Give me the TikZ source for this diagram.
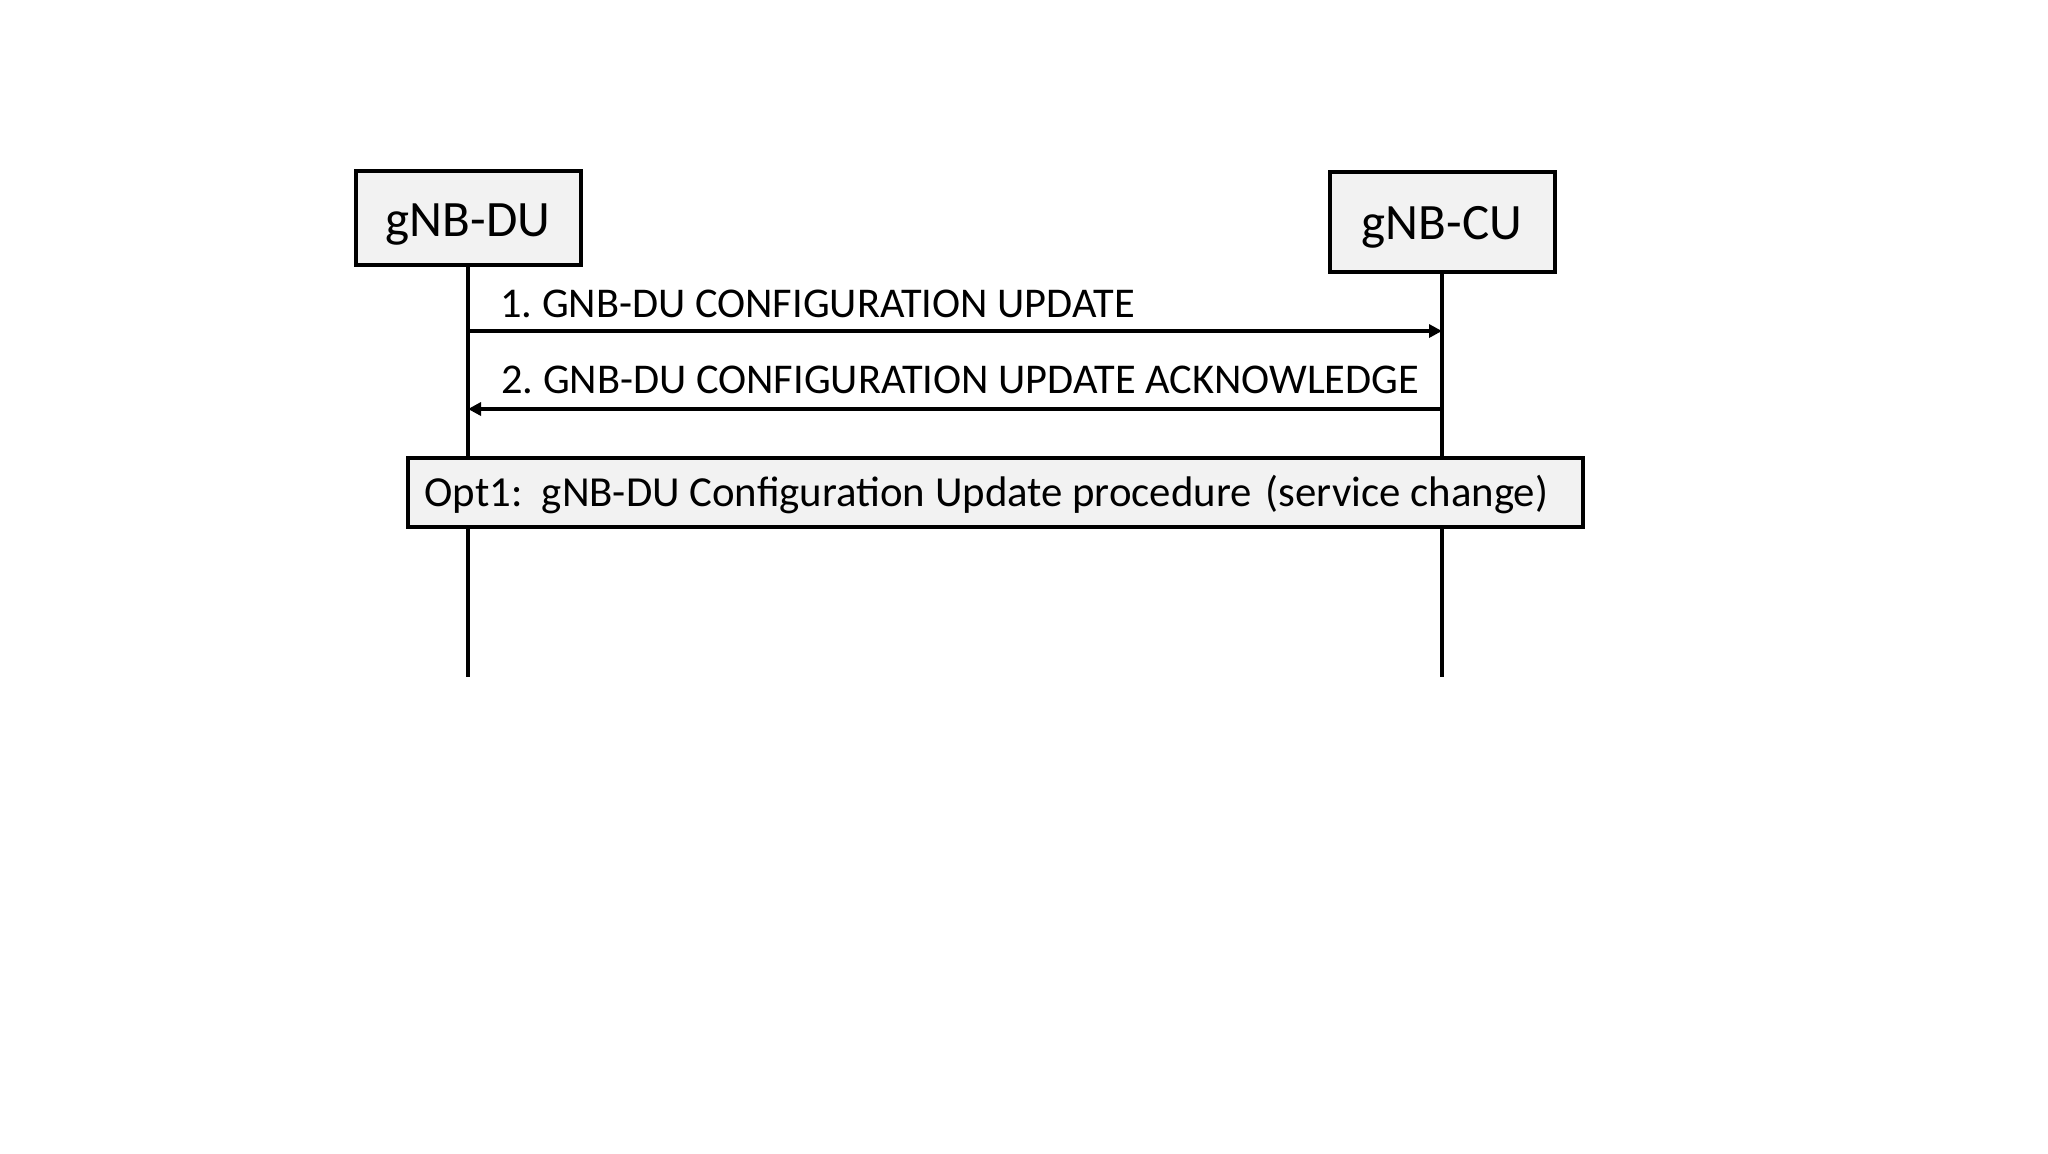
\documentclass[tikz,border=0pt]{standalone}
\usepackage{fontspec}
\setmainfont{Carlito}
\usetikzlibrary{arrows.meta}
\definecolor{boxfill}{HTML}{F2F2F2}
\frenchspacing
\begin{document}
\begin{tikzpicture}[x=0.5pt,y=-0.5pt,
  entity/.style={draw=black,line width=2pt,fill=boxfill,inner sep=0pt},
  entitytext/.style={anchor=base,inner sep=0pt,font=\fontsize{25.5}{30}\selectfont},
  lifeline/.style={line width=1.8pt},
  msg/.style={line width=1.7pt,-{Triangle[length=6.5pt,width=6.5pt]}},
  msglabel/.style={anchor=base west,inner sep=0pt,font=\fontsize{21.2}{25}\selectfont},
  optbox/.style={draw=black,line width=2pt,fill=boxfill,inner sep=0pt}
]
\useasboundingbox (0,0) rectangle (2048,1153);
% entities
\node[entity,minimum width=112.5pt,minimum height=47pt] (du) at (468,217.5) {};
\node[entitytext] (dut) at (468,236) {gNB-DU};
\node[entity,minimum width=112.5pt,minimum height=50pt] (cu) at (1442,221.5) {};
\node[entitytext] (cut) at (1442,239) {gNB-CU};
% lifeline ends
\coordinate (duend) at (468,677);
\coordinate (cuend) at (1442,677);
\draw[lifeline] (du.south) -- (duend);
\draw[lifeline] (cu.south) -- (cuend);
% messages
\coordinate (m1s) at (468,331);
\coordinate (m1e) at (1442,331);
\coordinate (m2s) at (1442,409);
\coordinate (m2e) at (468,409);
\draw[msg] (m1s) -- (m1e);
\draw[msg] (m2s) -- (m2e);
\node[msglabel] (l1) at (500,317) {1. GNB-DU CONFIGURATION UPDATE};
\node[msglabel] (l2) at (501,393) {2. GNB-DU CONFIGURATION UPDATE ACKNOWLEDGE};
% opt box
\node[optbox,minimum width=587.5pt,minimum height=34.5pt] (opt) at (995.5,492.5) {};
\node[msglabel,font=\fontsize{21.4}{25}\selectfont] (optt) at (424,506) {Opt1:\ \ gNB-DU Configuration Update procedure\hspace{0.33em}(service change)};
\end{tikzpicture}
\end{document}
